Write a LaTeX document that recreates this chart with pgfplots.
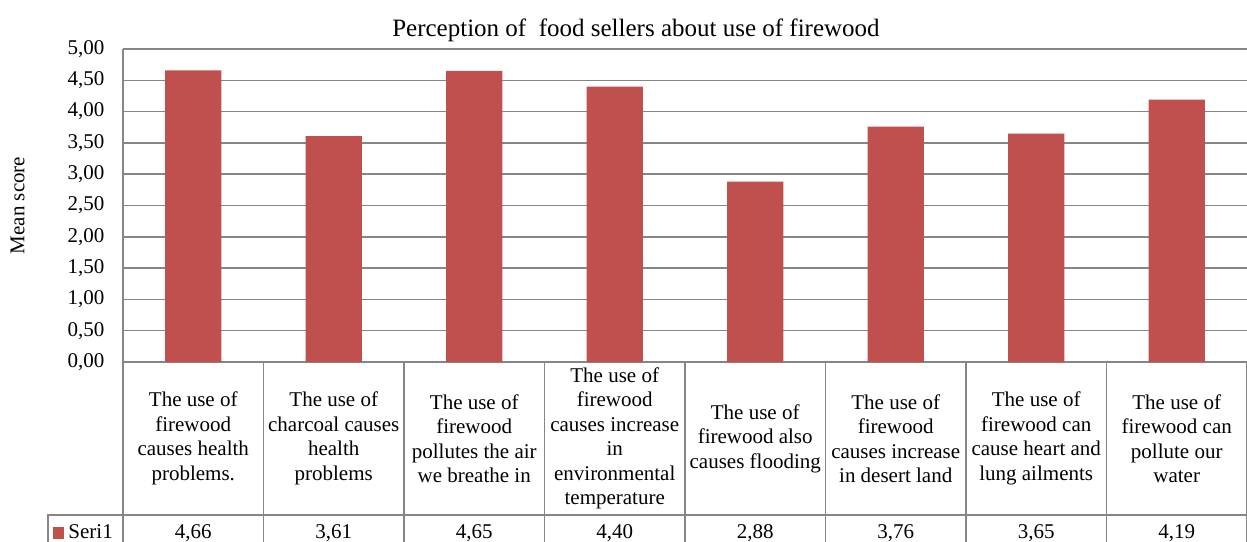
\documentclass[border=0pt]{standalone}
\usepackage{pgfplots}
\pgfplotsset{compat=1.18}
\usepackage{pgfplotstable}
\usepackage{fontspec}
\setmainfont{Liberation Serif}

\definecolor{barred}{HTML}{C0504D}
\definecolor{gridgray}{HTML}{868686}

% mean score per statement
\pgfplotstableread{
x val
0 4.66
1 3.61
2 4.65
3 4.40
4 2.88
5 3.76
6 3.65
7 4.19
}\meanscores

\begin{document}
\begin{tikzpicture}[font=\fontsize{21bp}{24.5bp}\selectfont]
\useasboundingbox (-123bp,-180bp) rectangle (1124bp,362bp);
\begin{axis}[
  at={(0,0)}, anchor=south west,
  scale only axis, width=1124bp, height=313bp,
  xmin=-0.5, xmax=7.5, ymin=0, ymax=5,
  clip=false,
  axis x line*=bottom, axis y line*=left,
  axis line style={gridgray, line width=1.5bp},
  major tick length=0pt,
  ytick={0,0.5,1,1.5,2,2.5,3,3.5,4,4.5,5},
  ymajorgrids,
  major grid style={gridgray, line width=1.5bp},
  xtick={0,1,2,3,4,5,6,7},
  xticklabels={
    {The use of\\firewood\\causes health\\problems.},
    {The use of\\charcoal causes\\health\\problems},
    {The use of\\firewood\\pollutes the air\\we breathe in},
    {The use of\\firewood\\causes increase\\in\\environmental\\temperature},
    {The use of\\firewood also\\causes flooding},
    {The use of\\firewood\\causes increase\\in desert land},
    {The use of\\firewood can\\cause heart and\\lung ailments},
    {The use of\\firewood can\\pollute our\\water}},
  xticklabel style={align=center, anchor=center, yshift=-76.5bp},
  yticklabel style={anchor=east, xshift=-15bp},
  ylabel={Mean score},
  every axis y label/.style={at={(axis description cs:0,0.5)}, xshift=-105.5bp, rotate=90, anchor=center},
  title={Perception of\ \ food sellers about use of firewood},
  title style={at={(axis description cs:0.4564,1)}, anchor=base, yshift=7bp,
    font=\fontsize{25bp}{30bp}\selectfont},
  /pgf/number format/.cd, use comma, fixed, fixed zerofill, precision=2, assume math mode=true
]
\addplot[ybar, bar width=0.4, bar shift=0pt, fill=barred, draw=none]
  table[x=x, y=val] {\meanscores};

% value row of the data table
\addplot[draw=none, mark=none, nodes near coords, point meta=explicit,
  every node near coord/.append style={anchor=base, inner sep=0pt, text=black}]
  table[x=x, y expr=-2.827, meta=val] {\meanscores};

% data table grid
\pgfplotsinvokeforeach{-0.5,0.5,1.5,2.5,3.5,4.5,5.5,6.5,7.5}{
  \draw[gridgray, line width=1.5bp] (axis cs:#1,0) -- (axis cs:#1,-3);
}
\draw[gridgray, line width=1.5bp] (axis cs:-1.034,-3) -- (axis cs:-1.034,-2.444) -- (axis cs:7.5,-2.444);

% legend key
\node[anchor=base east, inner sep=0pt, xshift=-10bp] at (axis cs:-0.5,-2.827)
  {\textcolor{barred}{\rule{11bp}{11.5bp}}\hspace{4bp}Seri1};
\end{axis}
\end{tikzpicture}
\end{document}
